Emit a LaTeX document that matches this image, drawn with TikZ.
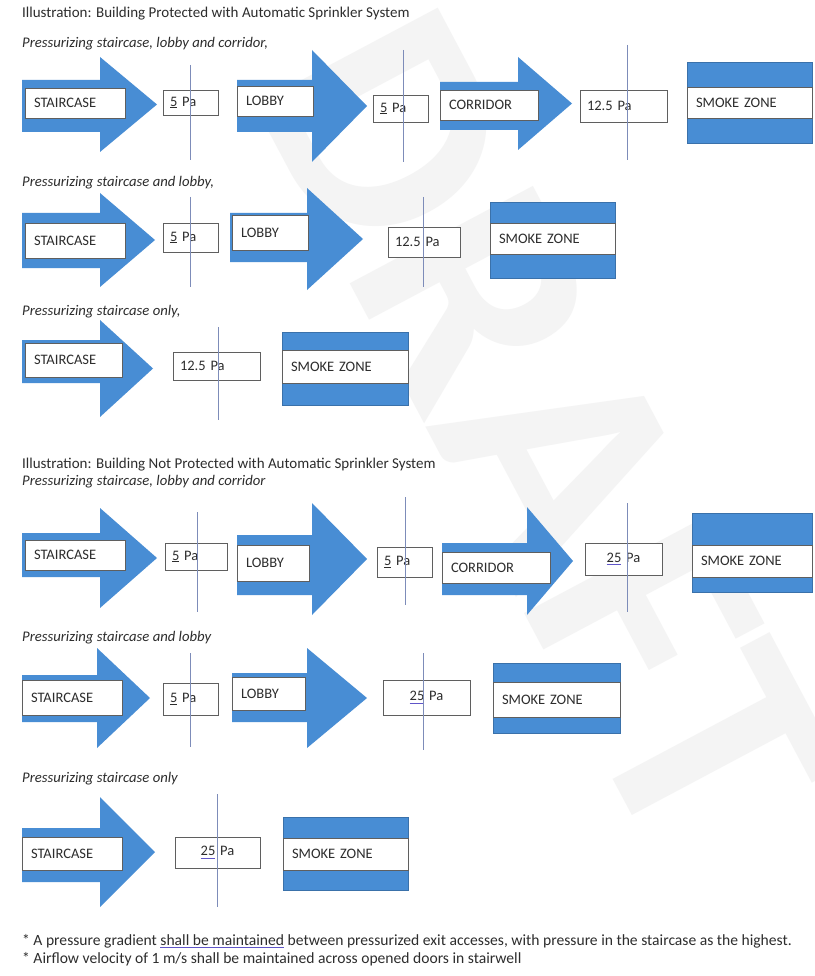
\documentclass[tikz,border=0pt]{standalone}
\usepackage{fontspec}
\setmainfont{Carlito}
\usepackage{xcolor}
\usepackage{tikz}
\usetikzlibrary{positioning}
\definecolor{flowblue}{RGB}{72,141,212}
\definecolor{doorblue}{RGB}{125,140,185}
\definecolor{boxedge}{RGB}{95,95,95}
\definecolor{inkgray}{RGB}{45,45,45}
\definecolor{spellpurple}{RGB}{95,85,200}
\definecolor{wmgray}{RGB}{244,244,244}
% arrow body: left x, head base x, tip x, shaft top, shaft bottom, head top, head bottom
\newcommand{\flowarrow}[7]{%
  \fill[flowblue] (#1,#4) -- (#2,#4) -- (#2,#6) -- (#3,{(#6+#7)/2}) -- (#2,#7) -- (#2,#5) -- (#1,#5) -- cycle;}
\newcommand{\spellmark}[1]{\setbox0\hbox{#1}\rlap{\textcolor{spellpurple}{\rule[-2.8pt]{\wd0}{0.9pt}}}#1}

\begin{document}
\begin{tikzpicture}[x=1pt, y=-1pt,
    heading/.style={anchor=west, inner sep=0pt, text=inkgray, font=\fontsize{15}{17}\selectfont},
    subhead/.style={heading, font=\fontsize{14.7}{17}\selectfont\itshape},
    roombox/.style={draw=boxedge, fill=white, line width=0.7pt, anchor=north west,
                    inner xsep=9pt, inner ysep=0pt, outer sep=0pt, align=left,
                    text=inkgray, font=\fontsize{14.5}{16}\selectfont},
    pabox/.style={roombox, inner xsep=7pt},
    pamid/.style={roombox, inner xsep=7pt, align=center},
    smokefill/.style={fill=flowblue, draw=flowblue!80!black, line width=0.5pt,
                      anchor=north west, inner sep=0pt, outer sep=0pt},
    doorline/.style={draw=doorblue, line width=0.6pt},
    wm/.style={text=wmgray, rotate=-62, inner sep=0pt,
               font=\fontsize{320}{320}\selectfont\bfseries}
  ]
  \useasboundingbox (0,0) rectangle (814,976);
  \fill[white] (0,0) rectangle (814,976);

  % --- watermark ---
  \node[wm] (draft) at (545,430) {DRAFT};

  % ================= protected with sprinklers =================
  \node[heading] (titA) at (22,14) {Illustration: Building Protected with Automatic Sprinkler System};
  \node[subhead] (subA1) at (22,44) {Pressurizing staircase, lobby and corridor,};

  % --- row 1: staircase, lobby and corridor ---
  \flowarrow{22}{100}{157}{80}{132}{57}{152}
  \node[roombox, text width=82pt, minimum height=30pt] (stA1) at (25,88) {STAIRCASE};
  \node[pabox, text width=41pt, minimum height=25pt] (paA1a) at (163,90) {\underline{5} Pa};
  \flowarrow{237}{312}{367}{80}{132}{50}{162}
  \node[roombox, text width=58pt, minimum height=30pt] (lbA1) at (237,86) {LOBBY};
  \node[pabox, text width=41pt, minimum height=27pt] (paA1b) at (373,95) {\underline{5} Pa};
  \flowarrow{440}{518}{572}{82}{130}{57}{150}
  \node[roombox, text width=80pt, minimum height=30pt] (crA1) at (440,90) {CORRIDOR};
  \node[pabox, text width=73pt, minimum height=32pt] (paA1c) at (580,90) {12.5 Pa};
  \node[smokefill, minimum width=125pt, minimum height=81pt] (smA1) at (687,62) {};
  \node[roombox, text width=107pt, minimum height=31pt] (szA1) at (687,87) {SMOKE ZONE};
  \draw[doorline] (190,65) -- (190,160);
  \draw[doorline] (403,50) -- (403,162);
  \draw[doorline] (627,45) -- (627,160);

  % --- row 2: staircase and lobby ---
  \node[subhead] (subA2) at (22,183) {Pressurizing staircase and lobby,};
  \flowarrow{22}{100}{155}{213}{268}{193}{287}
  \node[roombox, text width=82pt, minimum height=35pt] (stA2) at (25,223) {STAIRCASE};
  \node[pabox, text width=41pt, minimum height=29pt] (paA2a) at (163,223) {\underline{5} Pa};
  \flowarrow{230}{307}{363}{213}{262}{188}{290}
  \node[roombox, text width=58pt, minimum height=35pt] (lbA2) at (232,215) {LOBBY};
  \node[pabox, text width=58pt, minimum height=30pt] (paA2b) at (388,227) {12.5 Pa};
  \node[smokefill, minimum width=125pt, minimum height=76pt] (smA2) at (490,202) {};
  \node[roombox, text width=107pt, minimum height=31pt] (szA2) at (490,223) {SMOKE ZONE};
  \draw[doorline] (190,197) -- (190,287);
  \draw[doorline] (423,197) -- (423,287);

  % --- row 3: staircase only ---
  \node[subhead] (subA3) at (22,312) {Pressurizing staircase only,};
  \flowarrow{22}{100}{153}{340}{383}{320}{417}
  \node[roombox, text width=79pt, minimum height=34pt] (stA3) at (25,343) {STAIRCASE};
  \node[pabox, text width=73pt, minimum height=28pt] (paA3) at (173,352) {12.5 Pa};
  \node[smokefill, minimum width=126pt, minimum height=73pt] (smA3) at (282,332) {};
  \node[roombox, text width=108pt, minimum height=33pt] (szA3) at (282,350) {SMOKE ZONE};
  \draw[doorline] (218,327) -- (218,420);

  % ================= not protected with sprinklers =================
  \node[heading] (titB) at (22,465) {Illustration: Building Not Protected with Automatic Sprinkler System};
  \node[subhead] (subB1) at (22,482) {Pressurizing staircase, lobby and corridor};

  % --- row 1: staircase, lobby and corridor ---
  \flowarrow{22}{100}{157}{533}{577}{508}{608}
  \node[roombox, text width=82pt, minimum height=30pt] (stB1) at (25,540) {STAIRCASE};
  \node[pabox, text width=48pt, minimum height=27pt] (paB1a) at (165,543) {\underline{5} Pa};
  \flowarrow{237}{312}{367}{535}{595}{503}{615}
  \node[roombox, text width=54pt, minimum height=36pt] (lbB1) at (237,545) {LOBBY};
  \node[pabox, text width=41pt, minimum height=30pt] (paB1b) at (377,547) {\underline{5} Pa};
  \flowarrow{442}{527}{573}{543}{595}{507}{615}
  \node[roombox, text width=90pt, minimum height=31pt] (crB1) at (442,552) {CORRIDOR};
  \node[pamid, text width=63pt, minimum height=32pt] (paB1c) at (585,543) {\spellmark{25} Pa};
  \node[smokefill, minimum width=120pt, minimum height=79pt] (smB1) at (692,513) {};
  \node[roombox, text width=102pt, minimum height=32pt] (szB1) at (692,545) {SMOKE ZONE};
  \draw[doorline] (197,512) -- (197,612);
  \draw[doorline] (405,497) -- (405,605);
  \draw[doorline] (627,503) -- (627,612);

  % --- row 2: staircase and lobby ---
  \node[subhead] (subB2) at (22,638) {Pressurizing staircase and lobby};
  \flowarrow{22}{97}{150}{675}{722}{648}{748}
  \node[roombox, text width=82pt, minimum height=35pt] (stB2) at (22,680) {STAIRCASE};
  \node[pabox, text width=41pt, minimum height=32pt] (paB2a) at (163,683) {\underline{5} Pa};
  \flowarrow{232}{307}{367}{673}{722}{648}{748}
  \node[roombox, text width=55pt, minimum height=33pt] (lbB2) at (232,677) {LOBBY};
  \node[pamid, text width=73pt, minimum height=35pt] (paB2b) at (383,680) {\spellmark{25} Pa};
  \node[smokefill, minimum width=127pt, minimum height=70pt] (smB2) at (493,663) {};
  \node[roombox, text width=109pt, minimum height=35pt] (szB2) at (493,682) {SMOKE ZONE};
  \draw[doorline] (190,653) -- (190,747);
  \draw[doorline] (423,653) -- (423,750);

  % --- row 3: staircase only ---
  \node[subhead] (subB3) at (22,779) {Pressurizing staircase only};
  \flowarrow{22}{100}{155}{828}{882}{797}{907}
  \node[roombox, text width=82pt, minimum height=33pt] (stB3) at (22,837) {STAIRCASE};
  \node[pamid, text width=71pt, minimum height=31pt] (paB3) at (175,837) {\spellmark{25} Pa};
  \node[smokefill, minimum width=125pt, minimum height=73pt] (smB3) at (283,817) {};
  \node[roombox, text width=107pt, minimum height=32pt] (szB3) at (283,838) {SMOKE ZONE};
  \draw[doorline] (217,794) -- (217,907);

  % --- notes ---
  \node[heading, font=\fontsize{15.6}{17}\selectfont] (noteA) at (22,941)
    {* A pressure gradient \spellmark{shall be maintained} between pressurized exit accesses, with pressure in the staircase as the highest.};
  \node[heading, font=\fontsize{15.6}{17}\selectfont] (noteB) at (22,959)
    {* Airflow velocity of 1 m/s shall be maintained across opened doors in stairwell};
\end{tikzpicture}
\end{document}
